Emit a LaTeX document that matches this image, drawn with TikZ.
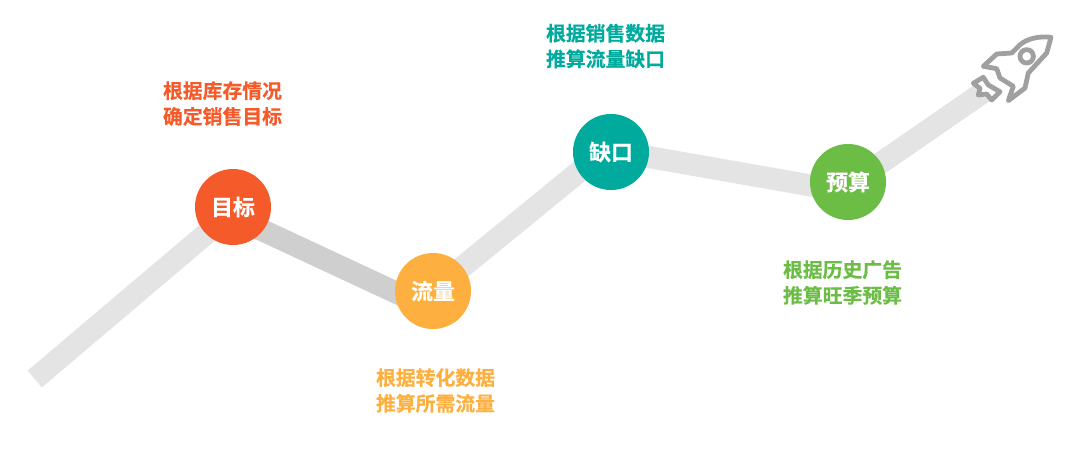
\documentclass[tikz,border=0pt]{standalone}
\usepackage{fontspec}
\usetikzlibrary{backgrounds}
\setmainfont{Noto Sans CJK SC}[BoldFont={Noto Sans CJK SC Bold},BoldFeatures={FakeBold=0.4}]
\definecolor{cOrange}{HTML}{F55B2A}
\definecolor{cYellow}{HTML}{FDB03F}
\definecolor{cTeal}{HTML}{00AB9E}
\definecolor{cGreen}{HTML}{6BBD45}
\definecolor{cBand}{HTML}{E4E4E4}
\definecolor{cBandDark}{HTML}{CFCFCF}
\definecolor{cRocket}{HTML}{A0A0A0}
\tikzset{
	band/.style={line width=0.55cm, color=cBand},
	stop/.style={circle, fill=#1, minimum size=1.9cm, inner sep=0pt, text=white, font=\fontsize{15.6pt}{17pt}\selectfont\bfseries},
	note/.style={align=center, text=#1, font=\fontsize{14.1pt}{18.3pt}\selectfont\bfseries},
	rocketline/.style={cRocket, line width=1.2mm, line join=round, fill=white},
}
\begin{document}
\begin{tikzpicture}[x=0.025cm, y=-0.025cm]
	\useasboundingbox (0,0) rectangle (1080,456);
	\coordinate (start) at (34.7,379);
	\coordinate (tail) at (985,91);
	% stops
	\node[stop=cOrange] (target) at (233,207) {目标};
	\node[stop=cYellow] (traffic) at (433,291) {流量};
	\node[stop=cTeal] (gap) at (611,152) {缺口};
	\node[stop=cGreen] (budget) at (848,182) {预算};
	% bands
	\begin{scope}[on background layer]
	\draw[band] (start) -- ([yshift=-0.1cm]target.center);
	\draw[band, color=cBandDark] ([yshift=-0.24cm]target.center) -- ([yshift=-0.47cm]traffic.center);
	\draw[band] (traffic.center) -- ([yshift=0.16cm]gap.center);
	\draw[band] ([yshift=0.04cm]gap.center) -- ([yshift=-0.25cm]budget.center);
	\draw[band] ([yshift=-0.09cm]budget.center) -- (tail);
	\end{scope}
	% notes
	\node[note=cOrange] (targetnote) at (222.5,103.5) {根据库存情况\\确定销售目标};
	\node[note=cYellow] (trafficnote) at (435.5,390.5) {根据转化数据\\推算所需流量};
	\node[note=cTeal] (gapnote) at (605.5,46) {根据销售数据\\推算流量缺口};
	\node[note=cGreen] (budgetnote) at (842.5,282.5) {根据历史广告\\推算旺季预算};
	% rocket
	\draw[rocketline] (1051,37.3) .. controls (1040,36) and (1028,38) .. (1020,44.7) -- (1011.7,53) -- (996.7,54) -- (983.3,66.3) -- (996.7,68.7) -- (1000,78) -- (1013.3,86.3) -- (1008.3,100.7) -- (1025,88) -- (1028.3,73) -- (1046.7,53) -- cycle;
	\draw[rocketline] (1026.7,56.3) circle (6.7);
	\draw[rocketline] (973.3,83.3) -- (983.3,77.3) -- (988.3,85) -- (1000,91.7) -- (991.7,100) -- (986.7,94) -- (978.3,95) -- (980,88.3) -- cycle;
\end{tikzpicture}
\end{document}
